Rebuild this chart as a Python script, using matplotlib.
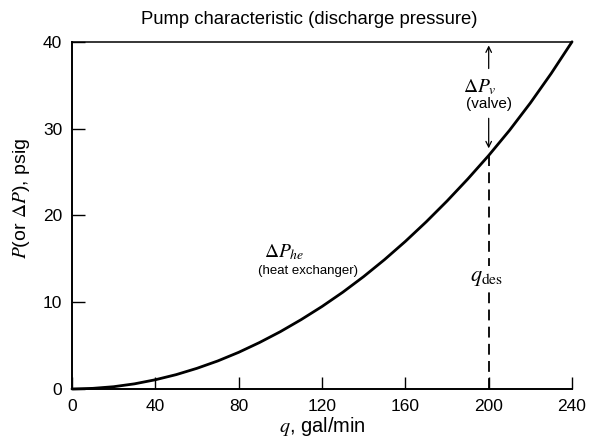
import matplotlib
matplotlib.use('Agg')
import matplotlib.pyplot as plt

plt.rcParams['font.family'] = ['Liberation Sans', 'DejaVu Sans']
plt.rcParams['mathtext.fontset'] = 'stix'

# flow rate, gal/min
q = [0, 10, 20, 30, 40, 50, 60, 70, 80, 90, 100, 110, 120,
     130, 140, 150, 160, 170, 180, 190, 200, 210, 220, 230, 240]
# pressure drop across the heat exchanger, psi
dp_he = [0, 0.07, 0.26, 0.59, 1.06, 1.65, 2.38, 3.23, 4.22, 5.35, 6.6, 7.99, 9.5,
         11.15, 12.95, 14.9, 17.0, 19.25, 21.65, 24.2, 26.9, 29.8, 32.95, 36.35, 40.0]

# pump discharge pressure, psig
pump_q = [0, 240]
pump_p = [40, 40]

q_des = 200
x_ticks = [0, 40, 80, 120, 160, 200, 240]
y_ticks = [0, 10, 20, 30, 40]

fig = plt.figure(figsize=(5.89, 4.41), dpi=100)
ax = fig.add_axes([0.1222, 0.118, 0.849, 0.866])

ax.plot(q, dp_he, color='black', lw=2.0, clip_on=False, solid_capstyle='round',
        solid_joinstyle='round')
ax.plot(pump_q, pump_p, color='black', lw=1.1, clip_on=False)

# design flow line
ax.plot([q_des, q_des], [0, dp_he[q.index(q_des)]], color='black', lw=1.3,
        ls=(0, (6, 3.5)))
ax.text(q_des - 1, 12.8, r'$q_{\mathrm{des}}$', ha='center', va='center', fontsize=16,
        bbox=dict(facecolor='white', edgecolor='none', pad=1))

# valve pressure drop arrows
ax.annotate('', xy=(q_des, 39.9), xytext=(q_des, 36.6),
            arrowprops=dict(arrowstyle='->', color='black', lw=0.9))
ax.annotate('', xy=(q_des, 27.4), xytext=(q_des, 31.5),
            arrowprops=dict(arrowstyle='->', color='black', lw=0.9))
ax.text(q_des - 4, 34.8, r'$\Delta P_v$', ha='center', va='center', fontsize=14)
ax.text(q_des, 32.8, '(valve)', ha='center', va='center', fontsize=11)

ax.text(102, 15.8, r'$\Delta P_{he}$', ha='center', va='center', fontsize=14)
ax.text(113.5, 13.6, '(heat exchanger)', ha='center', va='center', fontsize=9.5)

ax.text(114, 42.6, 'Pump characteristic (discharge pressure)', ha='center',
        va='center', fontsize=13.3)

ax.set_xlim(0, 240)
ax.set_ylim(0, 44)
ax.set_xticks(x_ticks)
ax.set_yticks(y_ticks)
ax.tick_params(direction='in', length=9, width=1.0, labelsize=12.5, pad=7)
for side in ['top', 'right']:
    ax.spines[side].set_visible(False)
ax.spines['left'].set_bounds(0, 40)
ax.spines['left'].set_linewidth(1.4)
ax.spines['bottom'].set_linewidth(1.4)

ax.set_xlabel(r'$q$, gal/min', fontsize=14.5, labelpad=1)
ax.set_ylabel(r'$P$(or $\Delta P$), psig', fontsize=14, labelpad=8)

plt.savefig('out.png', dpi=100)
